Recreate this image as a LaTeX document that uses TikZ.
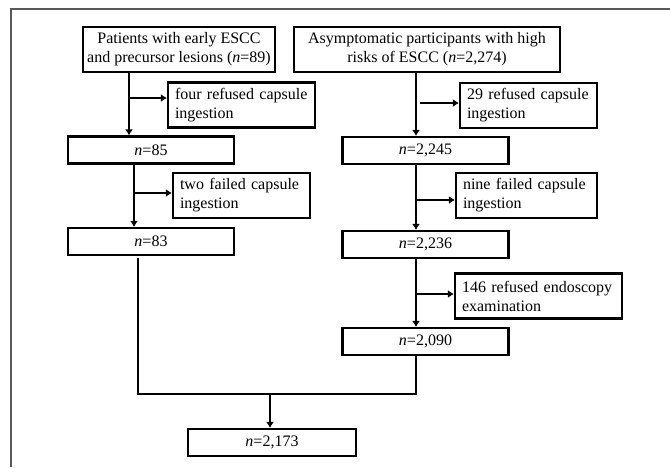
\documentclass[tikz,border=0pt]{standalone}
\usepackage{fontspec}
\setmainfont{Liberation Serif}
\usetikzlibrary{arrows.meta}
\tikzset{
  box/.style={draw, line width=2.2pt, minimum width=166pt, minimum height=27pt,
    inner xsep=3pt, inner ysep=2pt, font=\fontsize{16}{19}\selectfont},
  headbox/.style={box, align=center, minimum height=45pt},
  exclbox/.style={box, align=left, inner xsep=7pt, minimum width=0pt, minimum height=45pt, text width=#1},
  flow/.style={line width=2.2pt, -{Latex[length=6pt,width=8pt]}},
  mergeline/.style={line width=1.9pt},
  frame/.style={line width=1.3pt, black!65}
}
\begin{document}
\begin{tikzpicture}[x=1pt,y=-1pt]
            \useasboundingbox (0,0) rectangle (670,467);
            \draw[frame] (11,467) -- (11,9) -- (670,9);
            % left column
            \node[headbox, minimum width=192pt] (patients) at (179,49.5) {Patients with early ESCC\\and precursor lesions (\textit{n}=89)};
            \node[exclbox=133pt] (refuseA) at (241.5,105) {four refused capsule\\ingestion};
            \node[box] (nA1) at (151,150) {\textit{n}=85};
            \node[exclbox=123pt] (failA) at (241.5,195.5) {two failed capsule\\ingestion};
            \node[box] (nA2) at (151,241.5) {\textit{n}=83};
            % right column
            \node[headbox, minimum width=266pt] (highrisk) at (427,49.5) {Asymptomatic participants with high\\risks of ESCC (\textit{n}=2,274)};
            \node[exclbox=123pt] (refuseB) at (528.5,105.5) {29 refused capsule\\ingestion};
            \node[box] (nB1) at (425.5,150.5) {\textit{n}=2,245};
            \node[exclbox=127pt] (failB) at (526.5,195.5) {nine failed capsule\\ingestion};
            \node[box] (nB2) at (425.5,244.5) {\textit{n}=2,236};
            \node[exclbox=153pt] (endoB) at (538.5,296) {146 refused endoscopy\\examination};
            \node[box] (nB3) at (425.5,341.5) {\textit{n}=2,090};
            % total
            \node[box, minimum width=168pt] (total) at (272,442.5) {\textit{n}=2,173};
            % branch points
            \coordinate (bA1) at (129,98);
            \coordinate (bA2) at (134,193);
            \coordinate (bB1) at (420,103);
            \coordinate (bB2) at (416,200);
            \coordinate (bB3) at (416,294);
            \coordinate (mL) at (138,394);
            \coordinate (mR) at (416,394);
            \coordinate (mC) at (270,394);
            \coordinate (gapA) at (138,258);
            % connectors
            \draw[flow] (patients.south -| bA1) -- (nA1.north -| bA1);
            \draw[flow] (bA1) -- (bA1 -| refuseA.west);
            \draw[flow] (nA1.south -| bA2) -- (nA2.north -| bA2);
            \draw[flow] (bA2) -- (bA2 -| failA.west);
            \draw[flow] (highrisk.south -| bB2) -- (nB1.north -| bB2);
            \draw[flow] (bB1) -- (bB1 -| refuseB.west);
            \draw[flow] (nB1.south -| bB2) -- (nB2.north -| bB2);
            \draw[flow] (bB2) -- (bB2 -| failB.west);
            \draw[flow] (nB2.south -| bB3) -- (nB3.north -| bB3);
            \draw[flow] (bB3) -- (bB3 -| endoB.west);
            \draw[mergeline] (gapA) -- (mL) -- (mR) -- (nB3.south -| mR);
            \draw[flow, line width=1.7pt] (mC) -- (total.north -| mC);
\end{tikzpicture}
\end{document}
